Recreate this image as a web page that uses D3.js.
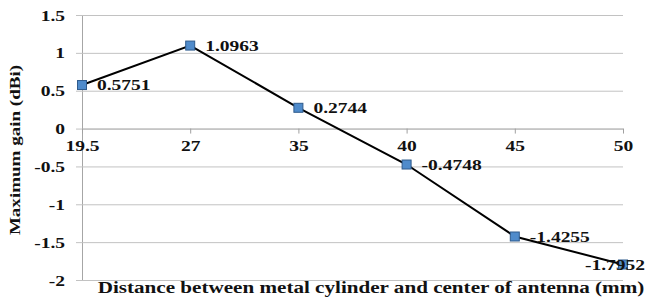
<html lang='en'>
<head>
  <meta charset='UTF-8'/>
  <title>Maximum gain vs distance</title>
  <script src='https://d3js.org/d3.v7.min.js'></script>
  <style>
    body { margin: 0; background: #fff; }
  </style>
</head>
<body>
  <svg id='chart' width='648' height='301'></svg>
</body>
</html>

<script>
const categories = ['19.5', '27', '35', '40', '45', '50'];
const gain = [0.5751, 1.0963, 0.2744, -0.4748, -1.4255, -1.7952];
const gainLabels = ['0.5751', '1.0963', '0.2744', '-0.4748', '-1.4255', '-1.7952'];
const yTicks = [-2, -1.5, -1, -0.5, 0, 0.5, 1, 1.5];

const width = 648;
const serif = "'Liberation Serif', 'Times New Roman', serif";
const wide = 1.3; // the original text is rendered noticeably wider than Times
const svg = d3.select('#chart').attr('font-family', serif);

// move x/y into a transform so the glyphs can be widened without shifting
function stretch(sel, s) {
  sel.each(function () {
    const t = d3.select(this);
    const x0 = +t.attr('x') || 0;
    const y0 = +t.attr('y') || 0;
    t.attr('x', 0).attr('y', 0)
      .attr('transform', `translate(${x0},${y0}) scale(${s},1)`);
  });
}

const x = d3.scalePoint()
  .domain(categories)
  .range([82, 623]);

const y = d3.scaleLinear()
  .domain([-2, 1.5])
  .range([280, 15]);

// gridlines + left axis
const yAxis = d3.axisLeft(y)
  .tickValues(yTicks)
  .tickSize(-(623 - 82))
  .tickSizeOuter(0)
  .tickPadding(17)
  .tickFormat(d => String(d));

const gy = svg.append('g')
  .attr('transform', 'translate(82,0)')
  .call(yAxis)
  .attr('font-family', serif);
gy.select('.domain').attr('stroke', '#a6a6a6');
gy.selectAll('.tick line').attr('stroke', '#c2c2c2').attr('x1', -6);
gy.selectAll('.tick text')
  .attr('font-size', 15)
  .attr('font-weight', 'bold')
  .attr('fill', '#111')
  .attr('dy', '0.34em')
  .call(stretch, wide);

// category axis on the zero line
const xAxis = d3.axisBottom(x)
  .tickSize(5)
  .tickSizeOuter(0)
  .tickPadding(7);

const gx = svg.append('g')
  .attr('transform', `translate(0,${y(0)})`)
  .call(xAxis)
  .attr('font-family', serif);
gx.select('.domain').attr('stroke', '#b4b4b4');
gx.selectAll('.tick line').attr('stroke', '#a0a0a0');
gx.selectAll('.tick text')
  .attr('font-size', 15)
  .attr('font-weight', 'bold')
  .attr('fill', '#111')
  .attr('dy', '0.71em')
  .call(stretch, wide);

// series
const line = d3.line()
  .x((d, i) => x(categories[i]))
  .y(d => y(d));

svg.append('path')
  .datum(gain)
  .attr('fill', 'none')
  .attr('stroke', '#000')
  .attr('stroke-width', 2)
  .attr('d', line);

svg.selectAll('.marker').data(gain).enter()
  .append('rect')
  .attr('class', 'marker')
  .attr('x', (d, i) => x(categories[i]) - 4.5)
  .attr('y', d => y(d) - 4.5)
  .attr('width', 9)
  .attr('height', 9)
  .attr('fill', '#4f8bcb')
  .attr('stroke', '#2f5b8c')
  .attr('stroke-width', 1);

// data labels
svg.selectAll('.label').data(gain).enter()
  .append('text')
  .attr('class', 'label')
  .attr('font-size', 15)
  .attr('font-weight', 'bold')
  .attr('fill', '#111')
  .attr('dy', '0.34em')
  .attr('y', d => y(d))
  .text((d, i) => gainLabels[i])
  .each(function (d, i) {
    const t = d3.select(this);
    const px = x(categories[i]) + 15;
    const w = this.getComputedTextLength() * wide;
    if (px + w > width - 2) {
      t.attr('text-anchor', 'end').attr('x', width - 3);
    } else {
      t.attr('x', px);
    }
  })
  .call(stretch, wide);

// axis titles
svg.append('text')
  .attr('transform', `translate(20,150) rotate(-90) scale(1.36,1)`)
  .attr('text-anchor', 'middle')
  .attr('font-size', 14)
  .attr('font-weight', 'bold')
  .attr('fill', '#111')
  .text('Maximum gain (dBi)');

svg.append('text')
  .attr('transform', `translate(371,293) scale(1.32,1)`)
  .attr('text-anchor', 'middle')
  .attr('font-size', 16)
  .attr('font-weight', 'bold')
  .attr('fill', '#111')
  .text('Distance between metal cylinder and center of antenna (mm)');
</script>
